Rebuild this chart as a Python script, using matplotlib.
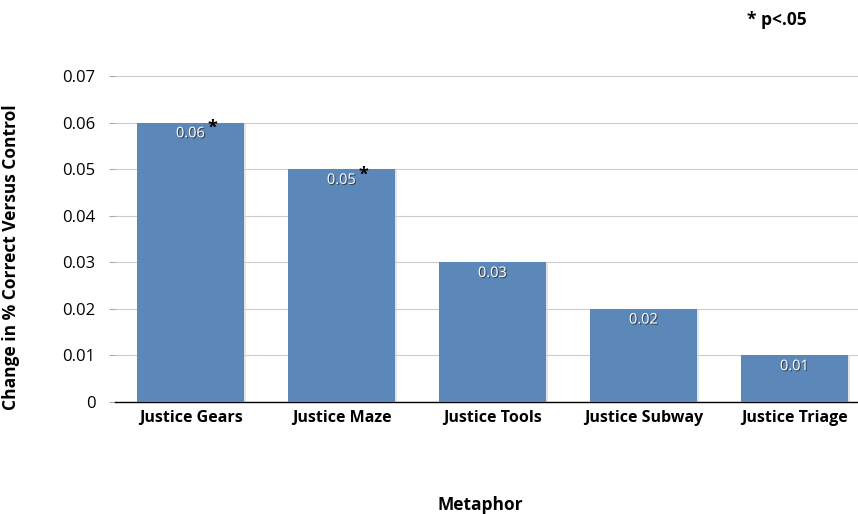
import matplotlib
matplotlib.use("Agg")
import matplotlib.pyplot as plt
import matplotlib.patheffects as pe

categories = ["Justice Gears", "Justice Maze", "Justice Tools", "Justice Subway", "Justice Triage"]
values = [0.06, 0.05, 0.03, 0.02, 0.01]
labels = ["0.06", "0.05", "0.03", "0.02", "0.01"]
significant = [True, True, False, False, False]
yticks = [0, 0.01, 0.02, 0.03, 0.04, 0.05, 0.06, 0.07]
ytick_labels = ["0", "0.01", "0.02", "0.03", "0.04", "0.05", "0.06", "0.07"]

plt.rcParams["font.family"] = ["Open Sans", "DejaVu Sans"]

W, H = 858, 514
fig = plt.figure(figsize=(W / 100, H / 100), dpi=100)
ax = fig.add_axes([115 / W, (514 - 402) / H, (858 - 115) / W, (402 - 76) / H])

bar_color = "#5b87b9"
x = list(range(len(categories)))
# faint drop shadow behind bars
ax.bar([i + 0.012 for i in x], values, width=0.715, color="#d4d4d4", alpha=0.6, zorder=2)
ax.bar(x, values, width=0.715, color=bar_color, zorder=3)

for i, (v, lab, sig) in enumerate(zip(values, labels, significant)):
    ax.text(i, v - 0.0024, lab, ha="center", va="center", color="white", fontsize=10.5, zorder=5,
            path_effects=[pe.withSimplePatchShadow(offset=(0.8, -0.8), shadow_rgbFace="#333333", alpha=0.8)])
    if sig:
        ax.text(i + 0.145, v - 0.0012, "*", ha="center", va="center", color="black",
                fontsize=13, fontweight="bold", zorder=6)

ax.set_xlim(-0.5, -0.5 + (858 - 115) / 151)
ax.set_ylim(0, 0.07)
ax.set_yticks(yticks)
ax.set_yticklabels(ytick_labels, fontsize=12)
ax.set_xticks(x)
ax.set_xticklabels(categories, fontsize=11.5, fontweight="bold")
ax.tick_params(axis="x", length=0, pad=6)
ax.tick_params(axis="y", length=4, color="#aaaaaa", pad=10)
ax.yaxis.grid(True, color="#cccccc", linewidth=0.8, zorder=0)
ax.set_axisbelow(True)
for s in ["top", "right", "left"]:
    ax.spines[s].set_visible(False)
ax.spines["bottom"].set_color("black")
ax.spines["bottom"].set_linewidth(1)

ax.set_ylabel("Change in % Correct Versus Control", fontsize=12.5, fontweight="bold")
ax.yaxis.set_label_coords(-0.128, 0.445)
fig.text(480 / W, 1 - 505 / H, "Metaphor", ha="center", va="center", fontsize=12.5, fontweight="bold")
fig.text(777 / W, 1 - 20 / H, "* p<.05", ha="center", va="center", fontsize=12.5, fontweight="bold")

plt.savefig("out.png", dpi=100)
plt.close()
